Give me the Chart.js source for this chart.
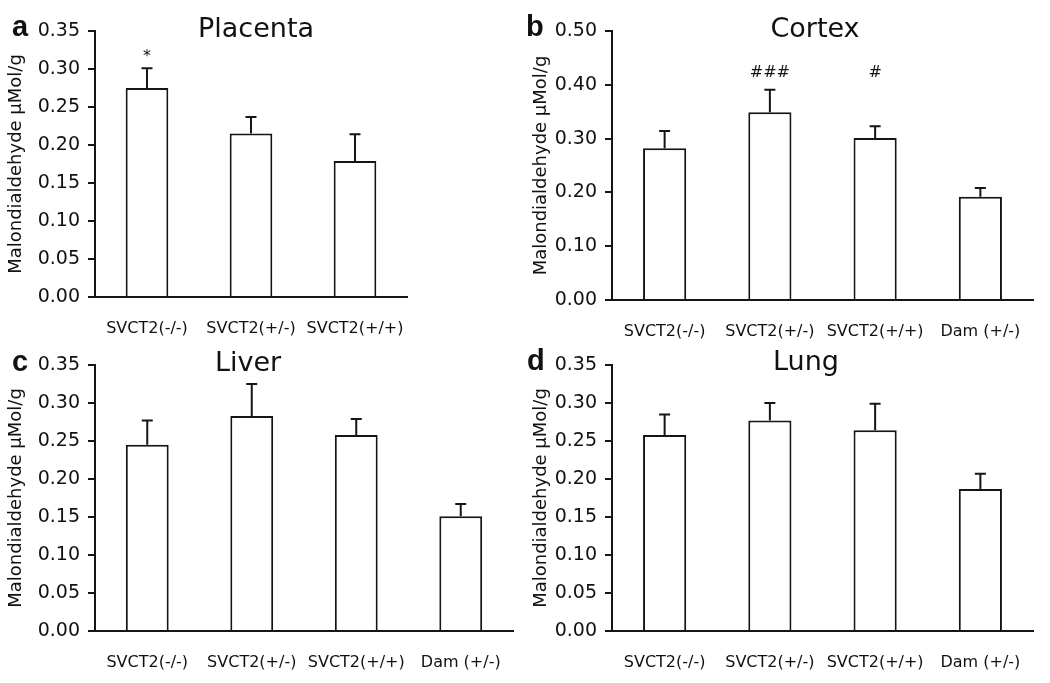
<!DOCTYPE html>
<html>
<head>
<meta charset="utf-8">
<script src="https://cdn.jsdelivr.net/npm/chart.js@4/dist/chart.umd.min.js"></script>
<style>
  html, body { margin: 0; padding: 0; background: #fff; }
  #wrap { position: relative; width: 1050px; height: 683px; }
  .panel { position: absolute; }
</style>
</head>
<body>
<div id="wrap">
  <div class="panel" style="left:0;top:0"><canvas id="chartA" width="525" height="340"></canvas></div>
  <div class="panel" style="left:525px;top:0"><canvas id="chartB" width="525" height="340"></canvas></div>
  <div class="panel" style="left:0;top:340px"><canvas id="chartC" width="525" height="343"></canvas></div>
  <div class="panel" style="left:525px;top:340px"><canvas id="chartD" width="525" height="343"></canvas></div>
</div>
<script>
// groups
const groups3 = ['SVCT2(-/-)', 'SVCT2(+/-)', 'SVCT2(+/+)'];
const groups4 = ['SVCT2(-/-)', 'SVCT2(+/-)', 'SVCT2(+/+)', 'Dam (+/-)'];

// mean and SEM (µMol/g)
const placentaMean = [0.275, 0.215, 0.179];
const placentaSem  = [0.026, 0.022, 0.035];
const cortexMean   = [0.282, 0.349, 0.301, 0.192];
const cortexSem    = [0.032, 0.042, 0.022, 0.016];
const liverMean    = [0.245, 0.283, 0.258, 0.151];
const liverSem     = [0.032, 0.042, 0.021, 0.016];
const lungMean     = [0.258, 0.277, 0.264, 0.187];
const lungSem      = [0.027, 0.023, 0.035, 0.020];

// significance marks
const placentaMarks = ['*', '', ''];
const cortexMarks   = ['', '###', '#', ''];
const noMarks       = ['', '', '', ''];

const ink = '#151515';
const sans = 'DejaVu Sans, Verdana, sans-serif';

// error bars, marks, panel title and letter
const decor = {
  id: 'decor',
  afterDatasetsDraw(chart, args, o) {
    const ctx = chart.ctx;
    const y = chart.scales.y;
    const meta = chart.getDatasetMeta(0);
    ctx.save();
    ctx.strokeStyle = ink;
    ctx.lineWidth = 2;
    meta.data.forEach((bar, i) => {
      const top = y.getPixelForValue(o.mean[i] + o.sem[i]);
      ctx.beginPath();
      ctx.moveTo(bar.x, bar.y);
      ctx.lineTo(bar.x, top);
      ctx.moveTo(bar.x - 5.5, top);
      ctx.lineTo(bar.x + 5.5, top);
      ctx.stroke();
      if (o.marks[i]) {
        ctx.fillStyle = ink;
        ctx.font = '16px ' + sans;
        ctx.textAlign = 'center';
        ctx.textBaseline = 'alphabetic';
        ctx.fillText(o.marks[i], bar.x, y.getPixelForValue(o.markAt));
      }
    });
    ctx.fillStyle = '#111';
    ctx.textBaseline = 'alphabetic';
    ctx.textAlign = 'center';
    ctx.font = '27px ' + sans;
    ctx.fillText(o.title, o.titleX, o.titleY);
    ctx.textAlign = 'left';
    ctx.font = 'bold 29px Liberation Sans, Arial, sans-serif';
    ctx.fillText(o.letter, o.letterX, o.letterY);
    ctx.restore();
  }
};

function makePanel(id, labels, mean, sem, marks, markAt, yMax, yStep, box) {
  const cv = document.getElementById(id);
  const W = cv.width, H = cv.height;
  return new Chart(cv, {
    type: 'bar',
    data: {
      labels,
      datasets: [{
        data: mean,
        backgroundColor: '#fff',
        borderColor: ink,
        borderWidth: 2,
        barPercentage: 0.41,
        categoryPercentage: 1
      }]
    },
    options: {
      responsive: false,
      animation: false,
      layout: { padding: { top: box.top, right: W - box.right, bottom: 0, left: 0 } },
      plugins: {
        legend: { display: false },
        tooltip: { enabled: false },
        decor: {
          mean, sem, marks, markAt,
          title: box.title, titleX: box.titleX, titleY: box.titleY,
          letter: box.letter, letterX: box.letterX, letterY: box.letterY
        }
      },
      scales: {
        x: {
          afterFit: s => { s.height = H - box.bottom; },
          grid: { display: false },
          border: { display: true, color: ink, width: 2 },
          ticks: { color: '#111', font: { family: sans, size: 16 }, padding: 14, maxRotation: 0, autoSkip: false }
        },
        y: {
          min: 0,
          max: yMax,
          afterFit: s => { s.width = box.left; },
          grid: { drawOnChartArea: false, drawTicks: true, tickLength: 7, color: ink, lineWidth: 2 },
          border: { display: true, color: ink, width: 2 },
          ticks: {
            stepSize: yStep,
            color: '#111',
            padding: 8,
            font: { family: sans, size: 19 },
            callback: v => Number(v).toFixed(2)
          },
          title: {
            display: true,
            text: 'Malondialdehyde µMol/g',
            color: '#111',
            font: { family: sans, size: 18 },
            padding: { top: 6, bottom: 0 }
          }
        }
      }
    },
    plugins: [decor]
  });
}

makePanel('chartA', groups3, placentaMean, placentaSem, placentaMarks, 0.31, 0.35, 0.05,
  { left: 95, top: 31, right: 407, bottom: 297, title: 'Placenta', titleX: 256, titleY: 37, letter: 'a', letterX: 12, letterY: 36 });
makePanel('chartB', groups4, cortexMean, cortexSem, cortexMarks, 0.415, 0.5, 0.1,
  { left: 87, top: 31, right: 508, bottom: 300, title: 'Cortex', titleX: 290, titleY: 37, letter: 'b', letterX: 1, letterY: 36 });
makePanel('chartC', groups4, liverMean, liverSem, noMarks, 0, 0.35, 0.05,
  { left: 95, top: 25, right: 513, bottom: 291, title: 'Liver', titleX: 248, titleY: 31, letter: 'c', letterX: 12, letterY: 31 });
makePanel('chartD', groups4, lungMean, lungSem, noMarks, 0, 0.35, 0.05,
  { left: 87, top: 25, right: 508, bottom: 291, title: 'Lung', titleX: 281, titleY: 30, letter: 'd', letterX: 2, letterY: 30 });
</script>
</body>
</html>
